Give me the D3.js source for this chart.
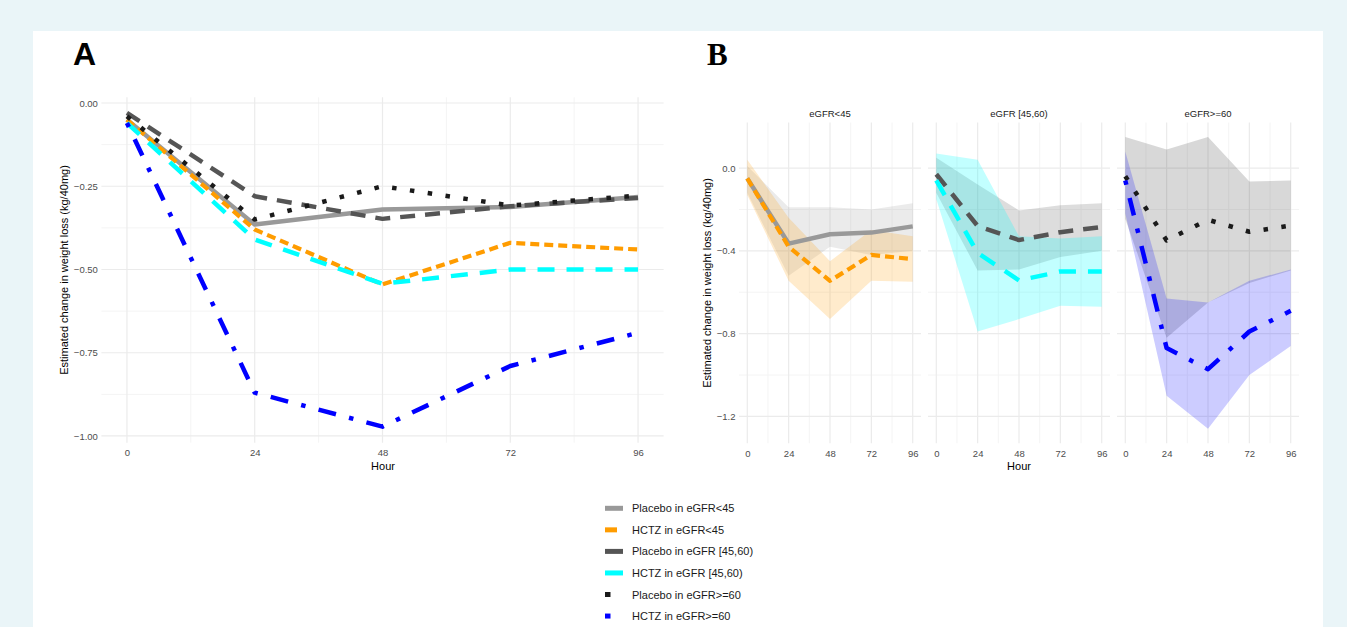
<!DOCTYPE html>
<html><head><meta charset="utf-8">
<script src="https://cdn.jsdelivr.net/npm/d3@7/dist/d3.min.js"></script>
<style>body{margin:0;background:#eaf5f8}svg{display:block}</style>
</head><body>
<svg id="c" width="1347" height="627"></svg>
<script>
// ---------------- DATA ----------------
const hours = [0, 24, 48, 72, 96];
const seriesKeys = ["placebo45", "hctz45", "placebo4560", "hctz4560", "placebo60", "hctz60"];
const seriesLabels = ["Placebo in eGFR<45", "HCTZ in eGFR<45", "Placebo in eGFR [45,60)", "HCTZ in eGFR [45,60)", "Placebo in eGFR>=60", "HCTZ in eGFR>=60"];
const placebo45   = [-0.05, -0.365, -0.32, -0.312, -0.282];
const hctz45      = [-0.05, -0.38, -0.545, -0.42, -0.44];
const placebo4560 = [-0.03, -0.28, -0.348, -0.31, -0.285];
const hctz4560    = [-0.06, -0.41, -0.543, -0.50, -0.50];
const placebo60   = [-0.04, -0.35, -0.25, -0.308, -0.278];
const hctz60      = [-0.06, -0.87, -0.972, -0.79, -0.69];
// confidence bands (panel B)
const placebo45Lo   = [-0.12, -0.52, -0.38, -0.42, -0.40];
const placebo45Hi   = [0.01, -0.19, -0.19, -0.20, -0.17];
const hctz45Lo      = [-0.13, -0.545, -0.73, -0.545, -0.55];
const hctz45Hi      = [0.04, -0.24, -0.45, -0.30, -0.33];
const placebo4560Lo = [-0.12, -0.495, -0.49, -0.43, -0.40];
const placebo4560Hi = [0.05, -0.08, -0.205, -0.18, -0.17];
const hctz4560Lo    = [-0.15, -0.79, -0.73, -0.665, -0.67];
const hctz4560Hi    = [0.07, 0.04, -0.33, -0.34, -0.33];
const placebo60Lo   = [-0.245, -0.82, -0.65, -0.555, -0.495];
const placebo60Hi   = [0.15, 0.09, 0.15, -0.065, -0.06];
const hctz60Lo      = [-0.22, -1.10, -1.26, -1.00, -0.86];
const hctz60Hi      = [0.08, -0.63, -0.65, -0.545, -0.49];
const facetLabels = ["eGFR<45", "eGFR [45,60)", "eGFR>=60"];
const xTicks = [0, 24, 48, 72, 96];
const xMinor = [12, 36, 60, 84];
const yTicksA = [0, -0.25, -0.5, -0.75, -1.0];
const yMinorA = [-0.125, -0.375, -0.625, -0.875];
const yTicksB = [0, -0.4, -0.8, -1.2];
const yMinorB = [-0.2, -0.6, -1.0];

const values = {placebo45, hctz45, placebo4560, hctz4560, placebo60, hctz60};
const bands = {
  placebo45: [placebo45Lo, placebo45Hi], hctz45: [hctz45Lo, hctz45Hi],
  placebo4560: [placebo4560Lo, placebo4560Hi], hctz4560: [hctz4560Lo, hctz4560Hi],
  placebo60: [placebo60Lo, placebo60Hi], hctz60: [hctz60Lo, hctz60Hi]
};
const facetSeries = [["placebo45", "hctz45"], ["placebo4560", "hctz4560"], ["placebo60", "hctz60"]];

// ---------------- STYLES ----------------
const style = {
  placebo45:   {color: "#999999", dash: null,            w: 4.5, fillOp: 0.2,  keyDash: null},
  hctz45:      {color: "#ff9c00", dash: "9,5",           w: 4.2, fillOp: 0.2,  keyDash: "12,40"},
  placebo4560: {color: "#555555", dash: "15,10",         w: 4.5, fillOp: 0.2,  keyDash: null},
  hctz4560:    {color: "#00ffff", dash: "17,12",         w: 4.5, fillOp: 0.24, keyDash: null},
  placebo60:   {color: "#1a1a1a", dash: "4.5,13.5",      w: 4.5, fillOp: 0.17, keyDash: "5.5,40"},
  hctz60:      {color: "#0000ff", dash: "4.5,13.5,18,13.5", w: 4.5, fillOp: 0.2, keyDash: "5.5,40"}
};

const svg = d3.select("#c");
const FONT = "Liberation Sans, Arial, sans-serif";
svg.append("rect").attr("width", 1347).attr("height", 627).attr("fill", "#eaf5f8");
svg.append("rect").attr("x", 33).attr("y", 31).attr("width", 1290).attr("height", 596).attr("fill", "#ffffff");

function grid(g, x, y, x0, x1, y0, y1, yMaj, yMin) {
  xMinor.forEach(v => g.append("line").attr("x1", x(v)).attr("x2", x(v)).attr("y1", y0).attr("y2", y1).attr("stroke", "#f4f4f4").attr("stroke-width", 1));
  yMin.forEach(v => g.append("line").attr("x1", x0).attr("x2", x1).attr("y1", y(v)).attr("y2", y(v)).attr("stroke", "#f4f4f4").attr("stroke-width", 1));
  xTicks.forEach(v => g.append("line").attr("x1", x(v)).attr("x2", x(v)).attr("y1", y0).attr("y2", y1).attr("stroke", "#ebebeb").attr("stroke-width", 1.2));
  yMaj.forEach(v => g.append("line").attr("x1", x0).attr("x2", x1).attr("y1", y(v)).attr("y2", y(v)).attr("stroke", "#ebebeb").attr("stroke-width", 1.2));
}
function styleAxis(g) {
  g.select(".domain").remove();
  g.selectAll("text").attr("fill", "#4d4d4d").attr("font-size", 9.5).attr("font-family", FONT);
}
function drawLine(g, x, y, key) {
  const s = style[key];
  const line = d3.line().x((d, i) => x(hours[i])).y(d => y(d));
  g.append("path").datum(values[key]).attr("d", line).attr("fill", "none")
    .attr("stroke", s.color).attr("stroke-width", s.w).attr("stroke-linejoin", "round")
    .attr("stroke-dasharray", s.dash);
}

// ---------------- PANEL A ----------------
const xA = d3.scaleLinear().domain([-4.8, 100.8]).range([101.4, 663.6]);
const yA = d3.scaleLinear().domain([-1.0202, 0.0171]).range([442.7, 97.3]);
const gA = svg.append("g");
grid(gA, xA, yA, 101.4, 663.6, 97.3, 442.7, yTicksA, yMinorA);
gA.append("g").attr("transform", "translate(101.4,0)")
  .call(d3.axisLeft(yA).tickValues(yTicksA).tickFormat(d3.format(".2f")).tickSize(0).tickPadding(3.5)).call(styleAxis);
gA.append("g").attr("transform", "translate(0,442.7)")
  .call(d3.axisBottom(xA).tickValues(xTicks).tickSize(0).tickPadding(6.8)).call(styleAxis);
seriesKeys.forEach(k => drawLine(gA, xA, yA, k));
gA.append("text").attr("x", 383).attr("y", 470).attr("text-anchor", "middle").attr("font-family", FONT).attr("font-size", 11).text("Hour");
gA.append("text").attr("transform", "translate(68,270) rotate(-90)").attr("text-anchor", "middle").attr("font-family", FONT).attr("font-size", 11).text("Estimated change in weight loss (kg/40mg)");
svg.append("text").attr("x", 73).attr("y", 65).attr("font-family", FONT).attr("font-weight", "bold").attr("font-size", 32).text("A");

// ---------------- PANEL B ----------------
const yB = d3.scaleLinear().domain([-1.33, 0.22]).range([443.3, 122.5]);
const facetW = 182, facetStep = 189, facetLeft0 = 739;
facetLabels.forEach((lab, fi) => {
  const left = facetLeft0 + fi * facetStep;
  const x = d3.scaleLinear().domain([-4.8, 100.8]).range([left, left + facetW]);
  const g = svg.append("g");
  grid(g, x, yB, left, left + facetW, 122.5, 443.3, yTicksB, yMinorB);
  g.append("g").attr("transform", "translate(0,443.3)")
    .call(d3.axisBottom(x).tickValues(xTicks).tickSize(0).tickPadding(7)).call(styleAxis);
  if (fi === 0) {
    g.append("g").attr("transform", `translate(${left},0)`)
      .call(d3.axisLeft(yB).tickValues(yTicksB).tickFormat(d3.format(".1f")).tickSize(0).tickPadding(3.5)).call(styleAxis);
  }
  g.append("text").attr("x", x(48)).attr("y", 116.5).attr("text-anchor", "middle").attr("font-family", FONT)
    .attr("font-size", 9.5).attr("fill", "#1a1a1a").text(lab);
  facetSeries[fi].forEach(k => {
    const [lo, hi] = bands[k];
    const area = d3.area().x((d, i) => x(hours[i])).y0((d, i) => yB(lo[i])).y1((d, i) => yB(hi[i]));
    g.append("path").datum(hours).attr("d", area).attr("fill", style[k].color).attr("fill-opacity", style[k].fillOp);
  });
  facetSeries[fi].forEach(k => drawLine(g, x, yB, k));
});
svg.append("text").attr("x", 1019).attr("y", 470).attr("text-anchor", "middle").attr("font-family", FONT).attr("font-size", 11).text("Hour");
svg.append("text").attr("transform", "translate(711,283) rotate(-90)").attr("text-anchor", "middle").attr("font-family", FONT).attr("font-size", 11).text("Estimated change in weight loss (kg/40mg)");
svg.append("text").attr("x", 707).attr("y", 65).attr("font-family", "Liberation Serif, Times New Roman, serif").attr("font-weight", "bold").attr("font-size", 31).text("B");

// ---------------- LEGEND ----------------
const lg = svg.append("g");
seriesKeys.forEach((k, i) => {
  const yy = 508.3 + i * 21.55;
  const s = style[k];
  lg.append("line").attr("x1", 605).attr("x2", 623).attr("y1", yy).attr("y2", yy)
    .attr("stroke", s.color).attr("stroke-width", 5).attr("stroke-dasharray", s.keyDash);
  lg.append("text").attr("x", 632).attr("y", yy + 4).attr("font-family", FONT).attr("font-size", 11)
    .attr("fill", "#1a1a1a").text(seriesLabels[i]);
});
</script>
</body></html>
